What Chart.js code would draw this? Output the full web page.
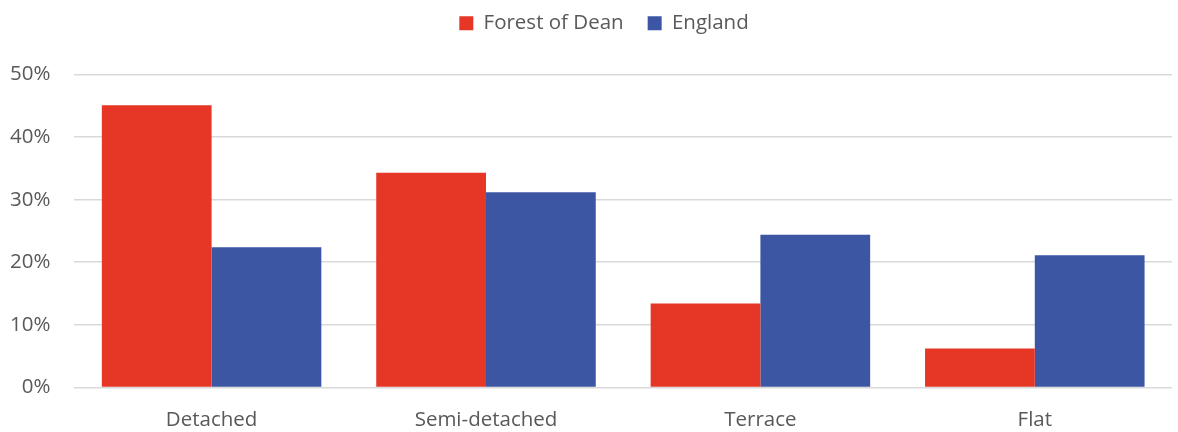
<!DOCTYPE html>
<html><head><meta charset="utf-8">
<script src="https://cdn.jsdelivr.net/npm/chart.js@4"></script>
<style>html,body{margin:0;padding:0;background:#fff;}#wrap{width:1178px;height:432px;}</style>
</head><body><div id="wrap"><canvas id="c" width="1178" height="432"></canvas></div>
<script>
const categories = ["Detached", "Semi-detached", "Terrace", "Flat"];
const forestOfDean = [45.1, 34.3, 13.4, 6.2];
const england = [22.4, 31.2, 24.4, 21.1];
const yTicks = [0, 10, 20, 30, 40, 50];
const FONT = "'Open Sans', sans-serif";
const FS = 20.5;
Chart.defaults.font.family = FONT;
const legendGap = {
  id: 'legendGap',
  beforeInit(chart) {
    const orig = chart.legend.fit;
    chart.legend.fit = function () { orig.call(this); this.height += 31; };
  },
  afterLayout(chart) {
    chart.legend.left += 25;
    chart.legend.right += 25;
  }
};
new Chart(document.getElementById('c'), {
  type: 'bar',
  plugins: [legendGap],
  data: {
    labels: categories,
    datasets: [
      {label: 'Forest of Dean', data: forestOfDean, backgroundColor: '#E63626', categoryPercentage: 0.8, barPercentage: 1.0},
      {label: 'England', data: england, backgroundColor: '#3C56A4', categoryPercentage: 0.8, barPercentage: 1.0}
    ]
  },
  options: {
    responsive: false, animation: false,
    layout: {padding: {left: -14, right: 6, top: -11, bottom: -12}},
    plugins: {
      legend: {position: 'top', labels: {boxWidth: 14, boxHeight: 14, color: '#595959', font: {size: FS, family: FONT}, padding: 24}},
      tooltip: {enabled: false}
    },
    scales: {
      x: {grid: {display: false}, border: {display: false}, ticks: {color: '#595959', font: {size: FS, family: FONT}, padding: 12}},
      y: {min: 0, max: 50, afterBuildTicks: (ax) => { ax.ticks = yTicks.map(v => ({value: v})); },
          grid: {color: '#d9d9d9', lineWidth: 1.5, drawTicks: false}, border: {display: false},
          ticks: {color: '#595959', font: {size: FS, family: FONT}, padding: 24, callback: v => v + '%'}}
    }
  }
});
</script></body></html>
